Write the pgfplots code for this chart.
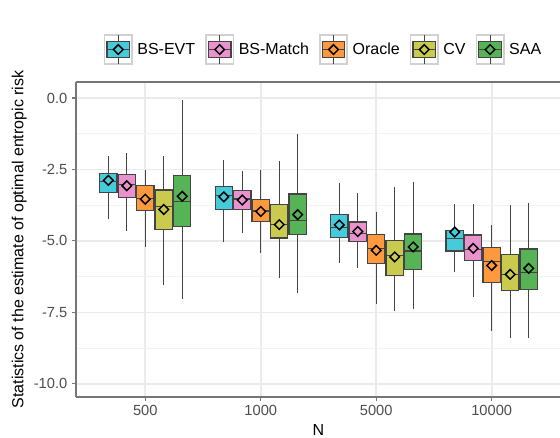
\documentclass[border=0pt]{standalone}
\usepackage{pgfplots}
\pgfplotsset{compat=1.18}
\usepackage{fontspec}
\setmainfont{Liberation Sans}

\definecolor{cEVT}{HTML}{45CBD9}
\definecolor{cMatch}{HTML}{E992CE}
\definecolor{cOracle}{HTML}{FF993E}
\definecolor{cCV}{HTML}{C9CA4E}
\definecolor{cSAA}{HTML}{56B356}
\definecolor{boxline}{HTML}{444444}
\definecolor{gridmaj}{HTML}{EBEBEB}
\definecolor{gridmin}{HTML}{F3F3F3}
\definecolor{ticktext}{HTML}{4D4D4D}
\definecolor{axline}{HTML}{767676}

% box: colour, position, lower whisker, lower quartile, median, upper quartile, upper whisker
\newcommand{\bx}[7]{%
 \pgfmathsetmacro{\xl}{#2-0.075}\pgfmathsetmacro{\xr}{#2+0.075}%
 \addplot[forget plot, draw=boxline, line width=0.8pt] coordinates {(#2,#3) (#2,#7)};
 \addplot[forget plot, fill=#1, draw=boxline, line width=0.9pt] coordinates {(\xl,#4) (\xr,#4) (\xr,#6) (\xl,#6)} -- cycle;
 \addplot[forget plot, draw=boxline, line width=0.9pt] coordinates {(\xl,#5) (\xr,#5)};
}

\newcommand{\legkey}[1]{\addlegendimage{legend image code/.code={
 \draw[draw=black!18, line width=1.2pt, fill=white] (0pt,-11pt) rectangle (20.5pt,11pt);
 \draw[boxline, line width=0.8pt] (10.25pt,-11pt) -- (10.25pt,11pt);
 \draw[boxline, fill=#1, line width=0.9pt] (1.8pt,-5.9pt) rectangle (18.7pt,5.9pt);
 \draw[boxline, line width=0.9pt] (1.8pt,0pt) -- (18.7pt,0pt);
 \draw[black, fill=#1, line width=1.1pt] (10.25pt,3.6pt) -- (13.85pt,0pt) -- (10.25pt,-3.6pt) -- (6.65pt,0pt) -- cycle;
}}}

\begin{document}
\begin{tikzpicture}
\begin{axis}[
  at={(0,0)}, anchor=south west,
  scale only axis,
  width=363.75pt, height=236.25pt,
  xmin=0.4, xmax=4.6,
  ymin=-10.46, ymax=0.56,
  axis x line*=box, axis y line*=left,
  axis line style={axline, line width=1.1pt},
  xtick={1,2,3,4},
  xticklabels={500,1000,5000,10000},
  ytick={-10,-7.5,-5,-2.5,0},
  yticklabels={-10.0,-7.5,-5.0,-2.5,0.0},
  minor ytick={-8.75,-6.25,-3.75,-1.25},
  xtick pos=left, ytick pos=left,
  tick align=outside,
  major tick length=3pt,
  minor tick length=0pt,
  tick style={axline, line width=0.8pt},
  xmajorgrids, ymajorgrids, yminorgrids,
  major grid style={gridmaj, line width=1.3pt},
  minor grid style={gridmin, line width=0.7pt},
  ticklabel style={font=\fontsize{11}{13}\selectfont, text=ticktext},
  xlabel={N},
  ylabel={Statistics of the estimate of optimal entropic risk},
  xlabel style={font=\fontsize{12}{14}\selectfont, at={(axis description cs:0.5,-0.123)}, anchor=base},
  ylabel style={font=\fontsize{12}{14}\selectfont, at={(axis description cs:-0.1087,0.5)}, anchor=base},
  legend columns=5,
  legend style={draw=none, fill=none, at={(axis description cs:0.511,1.103)}, anchor=center,
    font=\fontsize{12}{14}\selectfont,
    /tikz/every odd column/.append style={column sep=1.5pt},
    /tikz/every even column/.append style={column sep=5.5pt}},
  legend cell align=left,
]
\legkey{cEVT}\addlegendentry{BS-EVT}
\legkey{cMatch}\addlegendentry{BS-Match}
\legkey{cOracle}\addlegendentry{Oracle}
\legkey{cCV}\addlegendentry{CV}
\legkey{cSAA}\addlegendentry{SAA}

% N = 500
\bx{cEVT}{0.68}{-4.24}{-3.31}{-2.93}{-2.65}{-2.03}
\bx{cMatch}{0.84}{-4.65}{-3.47}{-3.04}{-2.67}{-1.93}
\bx{cOracle}{1.00}{-5.20}{-3.93}{-3.51}{-3.07}{-2.52}
\bx{cCV}{1.16}{-6.54}{-4.60}{-3.79}{-3.22}{-2.03}
\bx{cSAA}{1.32}{-7.02}{-4.49}{-3.61}{-2.70}{-0.08}
% N = 1000
\bx{cEVT}{1.68}{-5.05}{-3.89}{-3.41}{-3.11}{-2.18}
\bx{cMatch}{1.84}{-4.73}{-3.89}{-3.53}{-3.24}{-2.56}
\bx{cOracle}{2.00}{-5.42}{-4.31}{-3.95}{-3.54}{-2.53}
\bx{cCV}{2.16}{-6.30}{-4.90}{-4.42}{-3.73}{-2.20}
\bx{cSAA}{2.32}{-6.82}{-4.78}{-4.28}{-3.36}{-1.25}
% N = 5000
\bx{cEVT}{2.68}{-5.78}{-4.87}{-4.52}{-4.07}{-2.96}
\bx{cMatch}{2.84}{-5.94}{-5.01}{-4.73}{-4.34}{-3.31}
\bx{cOracle}{3.00}{-7.21}{-5.79}{-5.26}{-4.77}{-3.99}
\bx{cCV}{3.16}{-7.46}{-6.21}{-5.50}{-4.98}{-3.12}
\bx{cSAA}{3.32}{-7.38}{-5.99}{-5.35}{-4.76}{-2.94}
% N = 10000
\bx{cEVT}{3.68}{-6.07}{-5.35}{-4.91}{-4.64}{-3.72}
\bx{cMatch}{3.84}{-6.96}{-5.68}{-5.30}{-4.79}{-3.70}
\bx{cOracle}{4.00}{-8.15}{-6.45}{-5.71}{-5.23}{-4.44}
\bx{cCV}{4.16}{-8.39}{-6.74}{-6.17}{-5.48}{-3.75}
\bx{cSAA}{4.32}{-8.39}{-6.70}{-6.10}{-5.28}{-3.68}

% means
\addplot[forget plot, only marks, mark=square*, mark size=2.55pt, mark options={rotate=45, fill=cEVT, draw=black, line width=1.1pt}] coordinates {(0.68,-2.88) (1.68,-3.46) (2.68,-4.44) (3.68,-4.69)};
\addplot[forget plot, only marks, mark=square*, mark size=2.55pt, mark options={rotate=45, fill=cMatch, draw=black, line width=1.1pt}] coordinates {(0.84,-3.07) (1.84,-3.57) (2.84,-4.67) (3.84,-5.26)};
\addplot[forget plot, only marks, mark=square*, mark size=2.55pt, mark options={rotate=45, fill=cOracle, draw=black, line width=1.1pt}] coordinates {(1.00,-3.54) (2.00,-3.97) (3.00,-5.33) (4.00,-5.86)};
\addplot[forget plot, only marks, mark=square*, mark size=2.55pt, mark options={rotate=45, fill=cCV, draw=black, line width=1.1pt}] coordinates {(1.16,-3.90) (2.16,-4.43) (3.16,-5.56) (4.16,-6.17)};
\addplot[forget plot, only marks, mark=square*, mark size=2.55pt, mark options={rotate=45, fill=cSAA, draw=black, line width=1.1pt}] coordinates {(1.32,-3.44) (2.32,-4.08) (3.32,-5.21) (4.32,-5.96)};
\end{axis}
\pgfresetboundingbox
\path[use as bounding box] (-57pt,-30.75pt) rectangle (363pt,297.75pt);
\end{tikzpicture}
\end{document}
